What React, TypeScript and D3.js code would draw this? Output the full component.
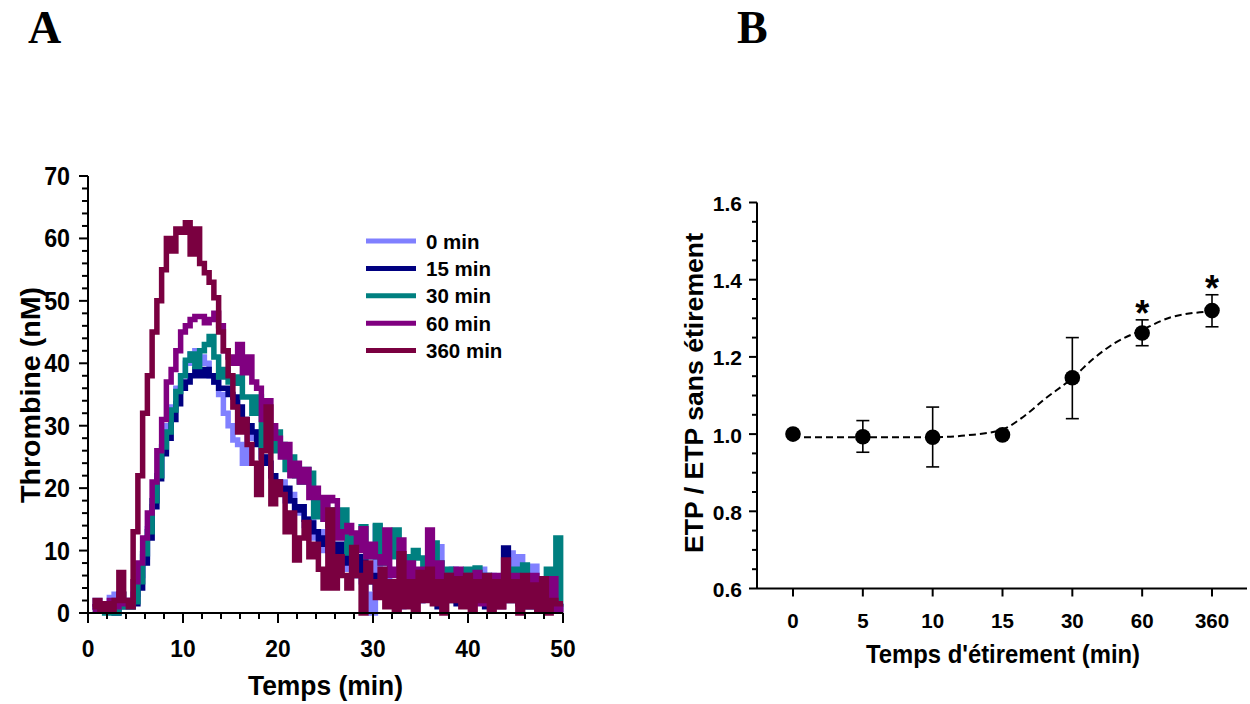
import React from 'react';
import * as d3 from 'd3';

// ---------- Panel A data (thrombin generation curves) ----------
const timeGrid: number[] = d3.range(0.5, 50.001, 0.5);
const seriesNames = ['0 min', '15 min', '30 min', '60 min', '360 min'];
const seriesColors = ['#8080FF', '#000080', '#008080', '#800080', '#7A0040'];

const thrombin0 = [
  1, 2, 1.5, 1, 2.5, 3, 2, 1.5, 2, 3,
  6, 9, 13.5, 18, 22, 26, 30, 33, 36, 38,
  40, 41.5, 42, 41, 40, 38, 37, 35, 32, 30,
  27.7, 27, 24, 30, 28, 29, 25, 24, 22, 20,
  21, 18, 19, 16, 17, 14, 15, 12, 13, 10,
  11, 8, 10, 7, 9, 6, 8, 5, 3, 0,
  13.8, 4, 7, 2, 5, 1, 6, 3, 5, 2,
  4, 7, 3, 10.6, 5, 4, 7, 2, 6, 3,
  5, 2, 7, 3, 6, 2, 5, 6, 9.6, 3,
  9, 4, 5, 7.5, 3, 5, 2, 4, 1, 1,
];
const thrombin15 = [
  1, 1, 0.5, 1, 0.5, 0, 1, 1.5, 1, 1.5,
  4, 8, 12, 17, 21.5, 25.5, 28, 31, 33.5, 36,
  37, 38, 39, 38, 39, 38, 37, 36, 36, 35,
  34.6, 33, 31, 30, 29, 27, 25, 24, 22, 21,
  19.7, 20, 18, 16.5, 17, 15, 14.4, 13, 11, 12,
  10, 9, 11, 8, 9.5, 9, 6, 9, 5, 6,
  4, 2.6, 5, 1.5, 4, 2, 5, 3, 6, 2,
  5, 3, 6, 1, 4, 2, 5, 1.5, 4, 3,
  5, 2, 4.5, 1, 5, 2, 4, 10.4, 3, 5,
  2, 6, 1, 5, 2, 4, 1, 3, 0.5, 1.5,
];
const thrombin30 = [
  0.5, 0.5, 1, 0, 1, 0, 3, 1, 1, 1.8,
  5, 9.5, 13, 18, 22, 26.6, 29, 32.5, 35.5, 38,
  40.5, 41.5, 39.5, 42, 43, 44.3, 41, 37.8, 39, 37,
  36.8, 37.8, 34.6, 34.6, 32, 34.6, 26.6, 28, 26, 29,
  27, 23, 25, 22, 21, 23, 22.4, 15.4, 18, 15,
  14, 16.5, 13, 16.5, 9.6, 12, 11, 13.8, 9, 9,
  14, 8, 11, 9, 13.3, 6, 9, 7, 10, 8.8,
  6, 8, 11.2, 8, 5, 7, 4, 6.5, 3, 7,
  4, 7.2, 3, 6, 1.5, 5, 3, 6, 2, 7,
  3, 7.7, 2, 5, 1, 4, 7, 2, 12, 1,
];
const thrombin60 = [
  0.5, 1, 1.5, 0.5, 2, 1, 3, 1.5, 2, 5,
  8, 12, 16, 21, 26, 31, 37, 39, 42, 45,
  46, 47, 47.5, 47.5, 46.5, 47, 48, 46, 42, 41,
  40, 43, 38.5, 41, 37, 36, 31, 34, 30, 28,
  25, 27, 22, 24, 21, 23, 18.5, 20, 18.5, 15,
  18.5, 18, 12, 13, 14, 12.8, 10, 13.5, 9, 11,
  9, 8, 13.3, 6, 7, 11.7, 5, 8, 3, 7,
  6, 13.3, 5, 8, 2, 6, 4, 7, 2, 6,
  3, 6.5, 1.5, 5, 2.5, 6, 1, 5.5, 2, 6,
  1.5, 5, 2, 6, 0.5, 4, 1.5, 5.5, 0.5, 1.5,
];
const thrombin360 = [
  1, 2, 0.5, 1.5, 0.5, 2, 6.5, 2, 1, 13,
  22, 32, 38, 45, 50, 55, 60, 58, 61.5, 61,
  62.5, 57.5, 61.5, 56, 54.5, 53, 50.5, 45, 42, 38,
  33, 29, 31, 27, 24, 19, 26, 33, 17.5, 21,
  19, 13, 16, 8.5, 12, 14.5, 9, 11, 7, 4,
  16.5, 4, 9, 6, 4, 10.5, 6, 0, 8, 5,
  2.5, 7, 1, 5, 0.5, 9.5, 1, 5, 0.5, 6.5,
  2, 7, 1.5, 5, 0, 6, 2, 5.5, 1, 6,
  0.5, 5, 2, 6, 0.5, 5, 1, 8.5, 2, 5,
  0, 6, 1, 4.5, 0.5, 5.5, 0, 2, 1.5, 1.5,
];
const thrombinSeries = [thrombin0, thrombin15, thrombin30, thrombin60, thrombin360];

const aXTicks = [0, 10, 20, 30, 40, 50];
const aYTicks = [0, 10, 20, 30, 40, 50, 60, 70];

// ---------- Panel B data ----------
const stretchCats = ['0', '5', '10', '15', '30', '60', '360'];
const etpMean = [1.0, 0.993, 0.992, 0.998, 1.146, 1.262, 1.32];
const etpErrTop = [1.0, 1.035, 1.07, 0.998, 1.25, 1.296, 1.361];
const etpErrBottom = [1.0, 0.953, 0.915, 0.998, 1.04, 1.229, 1.278];
const significant = [false, false, false, false, false, true, true];
const fitIndex = [0, 1, 2, 2.5, 3, 3.3, 3.6, 4, 4.3, 4.6, 5, 5.4, 6];
const fitValue = [0.992, 0.992, 0.992, 0.997, 1.012, 1.045, 1.09, 1.145, 1.195, 1.235, 1.27, 1.302, 1.318];
const bYTicks = [0.6, 0.8, 1.0, 1.2, 1.4, 1.6];

const FONT = 'Arial, "Liberation Sans", Helvetica, sans-serif';

function Label(props: {
  x: number; y: number; size: number; anchor?: string; sx?: number; children: React.ReactNode;
}) {
  const { x, y, size, anchor = 'start', sx = 1, children } = props;
  return (
    <text
      transform={`translate(${x},${y}) scale(${sx},1)`}
      textAnchor={anchor as any}
      fontFamily={FONT}
      fontWeight="bold"
      fontSize={size}
    >
      {children}
    </text>
  );
}

function PanelA() {
  const x = d3.scaleLinear().domain([0, 50]).range([88, 563]);
  const y = d3.scaleLinear().domain([0, 70]).range([613, 176]);
  const line = d3
    .line<number>()
    .x((_, i) => x(timeGrid[i]))
    .y((d) => y(d))
    .curve(d3.curveStep);
  const minorY = d3.range(0, 70.001, 2);
  const minorX = d3.range(0, 50.001, 2);
  return (
    <g>
      {thrombinSeries.map((s, k) => (
        <path key={k} d={line(s) || ''} fill="none" stroke={seriesColors[k]} strokeWidth={5.5} strokeLinejoin="miter" />
      ))}
      <line x1={x(0)} x2={x(0)} y1={y(70)} y2={y(0)} stroke="#000" strokeWidth={2} />
      <line x1={x(0)} x2={x(50)} y1={y(0)} y2={y(0)} stroke="#000" strokeWidth={2} />
      {minorY.map((v) => (
        <line key={'my' + v} x1={x(0) - (v % 10 === 0 ? 9 : 6)} x2={x(0)} y1={y(v)} y2={y(v)} stroke="#000" strokeWidth={2} />
      ))}
      {minorX.map((v) => (
        <line key={'mx' + v} x1={x(v)} x2={x(v)} y1={y(0)} y2={y(0) + (v % 10 === 0 ? 10 : 6)} stroke="#000" strokeWidth={2} />
      ))}
      {aYTicks.map((v) => (
        <Label key={'ty' + v} x={70} y={y(v) + 9} size={25} sx={0.93} anchor="end">
          {v}
        </Label>
      ))}
      {aXTicks.map((v) => (
        <Label key={'tx' + v} x={x(v)} y={y(0) + 44} size={24} sx={0.95} anchor="middle">
          {v}
        </Label>
      ))}
      <text x={325.5} y={695} textAnchor="middle" fontFamily={FONT} fontWeight="bold" fontSize={28}
        textLength={155} lengthAdjust="spacingAndGlyphs">
        Temps (min)
      </text>
      <text transform="translate(40,395) rotate(-90)" textAnchor="middle" fontFamily={FONT} fontWeight="bold" fontSize={28}
        textLength={216} lengthAdjust="spacingAndGlyphs">
        Thrombine (nM)
      </text>
      {seriesNames.map((n, k) => (
        <g key={n}>
          <line x1={366} x2={416} y1={241 + k * 27.4} y2={241 + k * 27.4} stroke={seriesColors[k]} strokeWidth={5} />
          <text x={426} y={241 + k * 27.4 + 7.5} fontFamily={FONT} fontWeight="bold" fontSize={20.5}>
            {n}
          </text>
        </g>
      ))}
    </g>
  );
}

function PanelB() {
  const x = d3.scalePoint<string>().domain(stretchCats).range([793, 1212]);
  const xi = d3.scaleLinear().domain([0, stretchCats.length - 1]).range([793, 1212]);
  const y = d3.scaleLinear().domain([0.6, 1.6]).range([588.5, 202.5]);
  const fitLine = d3
    .line<number>()
    .x((d) => xi(d))
    .y((_, i) => y(fitValue[i]))
    .curve(d3.curveMonotoneX);
  const minorY = d3.range(0.6, 1.6001, 0.05);
  const axisX0 = 757;
  return (
    <g>
      <line x1={axisX0} x2={axisX0} y1={y(1.6)} y2={y(0.6)} stroke="#000" strokeWidth={2} />
      <line x1={axisX0} x2={1247} y1={y(0.6)} y2={y(0.6)} stroke="#000" strokeWidth={2} />
      {minorY.map((v, i) => (
        <line key={'my' + i} x1={axisX0 - (i % 4 === 0 ? 8 : 5)} x2={axisX0} y1={y(v)} y2={y(v)} stroke="#000" strokeWidth={2} />
      ))}
      {stretchCats.map((c) => (
        <line key={'tx' + c} x1={x(c)!} x2={x(c)!} y1={y(0.6)} y2={y(0.6) + 8} stroke="#000" strokeWidth={2} />
      ))}
      {bYTicks.map((v) => (
        <Label key={'ly' + v} x={742} y={y(v) + 8.5} size={21} anchor="end">
          {d3.format('.1f')(v)}
        </Label>
      ))}
      {stretchCats.map((c) => (
        <Label key={'lx' + c} x={x(c)!} y={y(0.6) + 39} size={20.5} anchor="middle">
          {c}
        </Label>
      ))}
      <text x={1003} y={663} textAnchor="middle" fontFamily={FONT} fontWeight="bold" fontSize={25}
        textLength={274} lengthAdjust="spacingAndGlyphs">
        Temps d'étirement (min)
      </text>
      <text transform="translate(703,393) rotate(-90)" textAnchor="middle" fontFamily={FONT} fontWeight="bold" fontSize={25.5}
        textLength={320} lengthAdjust="spacingAndGlyphs">
        ETP / ETP sans étirement
      </text>
      <path d={fitLine(fitIndex) || ''} fill="none" stroke="#000" strokeWidth={2} strokeDasharray="7,4" />
      {stretchCats.map((c, i) =>
        etpErrTop[i] - etpErrBottom[i] > 0.001 ? (
          <g key={'e' + c} stroke="#000" strokeWidth={1.6}>
            <line x1={x(c)!} x2={x(c)!} y1={y(etpErrTop[i])} y2={y(etpErrBottom[i])} />
            <line x1={x(c)! - 6.5} x2={x(c)! + 6.5} y1={y(etpErrTop[i])} y2={y(etpErrTop[i])} />
            <line x1={x(c)! - 6.5} x2={x(c)! + 6.5} y1={y(etpErrBottom[i])} y2={y(etpErrBottom[i])} />
          </g>
        ) : null
      )}
      {stretchCats.map((c, i) => (
        <circle key={'p' + c} cx={x(c)!} cy={y(etpMean[i])} r={7.8} fill="#000" />
      ))}
      {stretchCats.map((c, i) =>
        significant[i] ? (
          <text key={'s' + c} x={x(c)!} y={y(etpErrTop[i]) + 6} textAnchor="middle" fontFamily={FONT} fontWeight="bold" fontSize={36}>
            *
          </text>
        ) : null
      )}
    </g>
  );
}

export default function App() {
  return (
    <svg width={1250} height={704} style={{ position: 'absolute', left: 0, top: 0, background: '#fff' }}>
      <rect width={1250} height={704} fill="#fff" />
      <text x={28} y={43} fontFamily='"Liberation Serif", "Times New Roman", serif' fontWeight="bold" fontSize={46}>
        A
      </text>
      <text x={737} y={43} fontFamily='"Liberation Serif", "Times New Roman", serif' fontWeight="bold" fontSize={46}>
        B
      </text>
      <PanelA />
      <PanelB />
    </svg>
  );
}
